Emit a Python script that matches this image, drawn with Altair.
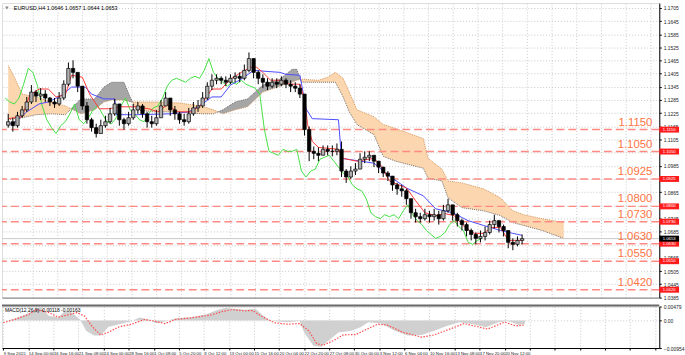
import altair as alt
import pandas as pd

# ---------------- data ----------------
# EURUSD H4, aggregated into 3-bar candles; bar index = H4 bar number from 9 Sep 2015 08:00
candle_bar = list(range(0, 334, 3))
first_open = 1.1170
close = [1.1186,1.1168,1.1213,1.1240,1.1276,1.1321,1.1303,1.1312,1.1294,1.1276,
         1.1267,1.1294,1.1357,1.1429,1.1411,1.1348,1.1258,1.1195,1.1159,1.1132,
         1.1168,1.1186,1.1222,1.1267,1.1195,1.1177,1.1204,1.1240,1.1258,1.1222,
         1.1186,1.1177,1.1204,1.1258,1.1294,1.1240,1.1222,1.1195,1.1186,1.1222,
         1.1249,1.1258,1.1294,1.1348,1.1375,1.1384,1.1375,1.1366,1.1384,1.1393,
         1.1384,1.1420,1.1474,1.1411,1.1384,1.1366,1.1348,1.1366,1.1357,1.1375,
         1.1357,1.1348,1.1339,1.1312,1.1150,1.1051,1.1042,1.1033,1.1060,1.1051,
         1.1051,1.1060,1.0961,1.0934,1.0961,1.0970,1.1015,1.1024,1.1033,1.1006,
         1.0979,1.0952,1.0938,1.0898,1.0880,1.0871,1.0835,1.0771,1.0753,1.0744,
         1.0762,1.0753,1.0762,1.0744,1.0780,1.0807,1.0762,1.0735,1.0717,1.0690,
         1.0672,1.0654,1.0663,1.0681,1.0717,1.0735,1.0708,1.0690,1.0636,1.0627,
         1.0645,1.0653]
high = [1.1222,1.1204,1.1231,1.1258,1.1299,1.1353,1.1330,1.1339,1.1330,1.1299,
        1.1294,1.1321,1.1375,1.1456,1.1466,1.1393,1.1348,1.1276,1.1204,1.1177,
        1.1195,1.1213,1.1249,1.1290,1.1267,1.1204,1.1231,1.1267,1.1276,1.1267,
        1.1231,1.1213,1.1240,1.1285,1.1321,1.1294,1.1258,1.1231,1.1222,1.1249,
        1.1276,1.1285,1.1321,1.1366,1.1402,1.1402,1.1393,1.1393,1.1402,1.1411,
        1.1411,1.1447,1.1502,1.1474,1.1420,1.1402,1.1384,1.1384,1.1384,1.1393,
        1.1384,1.1375,1.1366,1.1357,1.1312,1.1164,1.1073,1.1069,1.1078,1.1078,
        1.1078,1.1087,1.1096,1.0970,1.0983,1.0997,1.1042,1.1051,1.1051,1.1033,
        1.1006,1.0979,1.0961,1.0938,1.0907,1.0898,1.0880,1.0835,1.0789,1.0771,
        1.0789,1.0780,1.0789,1.0780,1.0807,1.0835,1.0807,1.0771,1.0744,1.0726,
        1.0699,1.0681,1.0690,1.0708,1.0735,1.0762,1.0735,1.0717,1.0690,1.0654,
        1.0663,1.0672]
low = [1.1159,1.1141,1.1159,1.1204,1.1231,1.1267,1.1276,1.1285,1.1276,1.1258,
       1.1249,1.1258,1.1285,1.1348,1.1384,1.1321,1.1240,1.1177,1.1141,1.1114,
       1.1141,1.1159,1.1177,1.1213,1.1168,1.1150,1.1168,1.1195,1.1222,1.1204,
       1.1159,1.1159,1.1168,1.1204,1.1258,1.1213,1.1195,1.1177,1.1168,1.1177,
       1.1213,1.1231,1.1249,1.1285,1.1330,1.1357,1.1357,1.1348,1.1357,1.1366,
       1.1366,1.1375,1.1411,1.1384,1.1357,1.1339,1.1330,1.1339,1.1339,1.1348,
       1.1339,1.1321,1.1321,1.1294,1.1123,1.1006,1.1015,1.1006,1.1033,1.1033,
       1.1028,1.1033,1.0934,1.0907,1.0925,1.0943,1.0970,1.0997,1.1006,1.0979,
       1.0952,1.0934,1.0916,1.0871,1.0853,1.0844,1.0807,1.0744,1.0726,1.0726,
       1.0735,1.0726,1.0735,1.0717,1.0735,1.0771,1.0735,1.0708,1.0690,1.0663,
       1.0645,1.0627,1.0636,1.0645,1.0672,1.0699,1.0681,1.0663,1.0609,1.0600,
       1.0618,1.0627]

# Ichimoku: Tenkan (red), Kijun (blue), cloud spans (shifted +26 bars)
tenkan_bar = [0,9,14,20,26,31,37,41,48,53,59,65,72,83,91,97,103,110,119,125,
              132,138,144,151,157,161,165,170,176,182,189,192,194,197,201,214,217,226,237,242,
              247,258,264,270,277,283,289,296,302,308,313,319,324,333]
tenkan = [1.1200,1.1209,1.1308,1.1335,1.1335,1.1299,1.1308,1.1398,1.1389,1.1308,
          1.1245,1.1245,1.1254,1.1254,1.1245,1.1231,1.1263,1.1231,1.1231,1.1263,
          1.1335,1.1335,1.1380,1.1411,1.1434,1.1434,1.1411,1.1375,1.1375,1.1357,
          1.1357,1.1290,1.1173,1.1096,1.1069,1.1060,1.1019,1.1006,1.1019,1.0983,
          1.0916,1.0884,1.0826,1.0771,1.0758,1.0767,1.0758,1.0704,1.0677,1.0677,
          1.0704,1.0704,1.0645,1.0645]
kijun_bar = [0,5,12,20,26,35,41,50,54,62,69,70,83,105,117,125,132,138,144,151,
             159,176,180,189,193,197,214,216,237,247,258,269,277,288,298,308,319,327,333]
kijun = [1.1173,1.1186,1.1231,1.1267,1.1276,1.1308,1.1344,1.1344,1.1312,1.1290,
         1.1290,1.1218,1.1218,1.1222,1.1231,1.1263,1.1299,1.1299,1.1353,1.1380,
         1.1420,1.1411,1.1402,1.1398,1.1245,1.1200,1.1195,1.1019,1.0997,1.0938,
         1.0884,1.0848,1.0789,1.0771,1.0735,1.0713,1.0690,1.0677,1.0668]
cloud_bar = [0,4,9,18,28,37,47,56,62,67,75,79,83,94,110,125,133,139,147,155,
             165,176,184,187,190,201,207,212,217,221,226,237,243,251,269,272,281,285,294,308,
             319,327,334,346,360]
span_a = [1.1443,1.1389,1.1312,1.1299,1.1276,1.1258,1.1222,1.1240,1.1276,1.1285,
          1.1285,1.1276,1.1276,1.1276,1.1272,1.1258,1.1240,1.1222,1.1240,1.1254,
          1.1321,1.1348,1.1366,1.1375,1.1380,1.1375,1.1389,1.1411,1.1384,1.1321,
          1.1240,1.1209,1.1173,1.1155,1.1109,1.1019,1.0970,1.0916,1.0907,1.0880,
          1.0839,1.0780,1.0762,1.0744,1.0726]
span_b = [1.1195,1.1200,1.1204,1.1218,1.1222,1.1218,1.1290,1.1290,1.1344,1.1366,
          1.1366,1.1299,1.1240,1.1231,1.1231,1.1222,1.1222,1.1240,1.1276,1.1290,
          1.1353,1.1380,1.1425,1.1425,1.1366,1.1366,1.1366,1.1366,1.1299,1.1231,
          1.1173,1.1127,1.1028,1.1006,1.0974,1.0929,1.0916,1.0839,1.0794,1.0780,
          1.0758,1.0726,1.0713,1.0690,1.0654]
chikou_shift = 26

levels = [1.1150, 1.1050, 1.0925, 1.0800, 1.0730, 1.0630, 1.0550, 1.0420]
last_price = 1.0653
y_ticks = [1.1705,1.1645,1.1585,1.1525,1.1465,1.1405,1.1345,1.1285,1.1225,1.1165,
           1.1105,1.1045,1.0985,1.0925,1.0865,1.0805,1.0745,1.0685,1.0625,1.0565,
           1.0505,1.0445,1.0385]
x_labels = ["9 Sep 2015","14 Sep 00:00","16 Sep 16:00","21 Sep 08:00","24 Sep 00:00",
            "28 Sep 16:00","1 Oct 08:00","5 Oct 20:00","8 Oct 12:00","13 Oct 00:00",
            "15 Oct 16:00","20 Oct 04:00","22 Oct 20:00","27 Oct 08:00","30 Oct 00:00",
            "3 Nov 12:00","6 Nov 04:00","10 Nov 16:00","13 Nov 08:00","17 Nov 20:00",
            "20 Nov 12:00"]
bars_per_label = 16

macd_bar = [0,7,16,21,24,29,35,39,43,49,53,58,62,67,74,82,87,93,98,104,
            110,120,129,137,142,154,161,165,170,181,189,192,198,203,209,214,222,228,233,241,
            250,258,267,275,283,291,300,308,316,322,329,333]
macd_val = [-0.0002,0.0005,0.0025,0.0040,0.0045,0.0016,0.0010,0.0031,0.0030,0.0003,
            -0.0037,-0.0052,-0.0052,-0.0023,-0.0013,-0.0002,0.0010,0.0003,-0.0011,-0.0002,
            0.0007,0.0011,0.0020,0.0037,0.0043,0.0037,0.0040,0.0020,0.0000,-0.0006,
            -0.0002,-0.0042,-0.0088,-0.0091,-0.0063,-0.0042,-0.0036,-0.0024,-0.0006,-0.0011,
            -0.0036,-0.0052,-0.0050,-0.0036,-0.0019,-0.0006,-0.0013,-0.0024,-0.0006,-0.0002,
            -0.0016,-0.0012]
signal_bar = [0,7,16,21,29,35,42,47,52,57,62,67,74,82,90,96,103,110,120,132,
              140,146,154,159,165,173,181,189,195,200,204,211,217,225,231,239,245,255,267,275,
              286,294,303,309,320,327,333]
signal_val = [-0.0008,0.0003,0.0020,0.0037,0.0027,0.0011,0.0020,0.0027,0.0014,-0.0023,
              -0.0050,-0.0041,-0.0022,-0.0013,0.0003,-0.0002,-0.0011,0.0003,0.0009,0.0018,
              0.0031,0.0037,0.0033,0.0034,0.0014,-0.0008,-0.0013,-0.0011,-0.0036,-0.0080,
              -0.0086,-0.0069,-0.0050,-0.0049,-0.0033,-0.0013,-0.0016,-0.0041,-0.0058,-0.0050,
              -0.0028,-0.0011,-0.0022,-0.0030,-0.0006,-0.0019,-0.0016]
macd_ticks = [0.00479, 0.0, -0.00954]

header = "EURUSD,H4  1.0646 1.0657 1.0644 1.0653"
macd_header = "MACD(12,26,9) -0.00118 -0.00163"

# ---------------- tables ----------------
opens = [first_open] + close[:-1]
cdf = pd.DataFrame({"bar": candle_bar, "open": opens, "close": close, "high": high, "low": low})
cdf["hi"] = cdf[["high", "open", "close"]].max(axis=1)
cdf["lo"] = cdf[["low", "open", "close"]].min(axis=1)

chik = pd.DataFrame({"bar": [b - chikou_shift for b in candle_bar], "price": close})
chik = chik[chik["bar"] >= -4]

tdf = pd.DataFrame({"bar": tenkan_bar, "price": tenkan})
kdf = pd.DataFrame({"bar": kijun_bar, "price": kijun})
sdf = pd.DataFrame({"bar": cloud_bar, "a": span_a, "b": span_b})

rows = []
seg = 0
prev = None
for b, a, bb in zip(cloud_bar, span_a, span_b):
    sign = a >= bb
    if prev is not None and sign != prev[3]:
        pb, pa, pbb, ps = prev
        d0, d1 = pa - pbb, a - bb
        t = d0 / (d0 - d1)
        xb = pb + t * (b - pb)
        xv = pa + t * (a - pa)
        rows.append(dict(bar=xb, top=xv, bot=xv, seg=seg, kind="bull" if ps else "bear"))
        seg += 1
        rows.append(dict(bar=xb, top=xv, bot=xv, seg=seg, kind="bull" if sign else "bear"))
    rows.append(dict(bar=b, top=max(a, bb), bot=min(a, bb), seg=seg, kind="bull" if sign else "bear"))
    prev = (b, a, bb, sign)
cloud = pd.DataFrame(rows)

ldf = pd.DataFrame({"level": levels})
pdf = pd.DataFrame({"level": [last_price]})
mdf = pd.DataFrame({"bar": macd_bar, "val": macd_val, "zero": [0.0] * len(macd_bar)})
gdf = pd.DataFrame({"bar": signal_bar, "val": signal_val})

# ---------------- scales / axes ----------------
FONT = "Liberation Sans"
NARROW = "Liberation Sans Narrow, Liberation Sans"
xs = alt.Scale(domain=[-0.85, 418.7], nice=False, zero=False)
ys = alt.Scale(domain=[1.0384, 1.1727], nice=False, zero=False)
grid_bars = list(range(bars_per_label, 417, bars_per_label))
main_x_axis = alt.Axis(values=grid_bars, labels=False, ticks=False, domain=True,
                       domainColor="#808080", grid=True, gridColor="#c8c8c8",
                       gridDash=[1, 2], title=None)
main_y_axis = alt.Axis(orient="right", values=y_ticks, labelFontSize=5,
                       labelFont=FONT, labelColor="#222222", tickSize=2, labelPadding=2,
                       domainColor="black", tickColor="black", grid=True,
                       gridColor="#c8c8c8", gridDash=[1, 2], title=None,
                       labelOverlap=False, labelFlush=False, labelBound=False,
                       labelExpr="abs(datum.value - 1.0925) < 0.0012 || abs(datum.value - 1.1050) < 0.0012"
                                 " || abs(datum.value - 1.0800) < 0.0012 || abs(datum.value - 1.0630) < 0.0012"
                                 " ? '' : format(datum.value, '.4f')")
X = lambda: alt.X("bar:Q", scale=xs, axis=main_x_axis)
Y = lambda f: alt.Y(f, scale=ys, axis=main_y_axis)

W, H = 665, 298
box_shape = "M-1,-0.3L1,-0.3L1,0.3L-1,0.3Z"

cloud_area = alt.Chart(cloud).mark_area(opacity=1, clip=True).encode(
    x=X(), y=Y("top:Q"), y2="bot:Q", detail="seg:N",
    color=alt.Color("kind:N", scale=alt.Scale(domain=["bull", "bear"],
                                               range=["#fbd6ae", "#a6a6a6"]), legend=None))
span_a_line = alt.Chart(sdf).mark_line(color="#c88040", strokeWidth=0.8, strokeDash=[1, 1]).encode(
    x=X(), y=Y("a:Q"))
span_b_line = alt.Chart(sdf).mark_line(color="#505050", strokeWidth=0.8, strokeDash=[1, 1]).encode(
    x=X(), y=Y("b:Q"))
level_rules = alt.Chart(ldf).mark_rule(color="#ff8a84", strokeWidth=1.5, strokeDash=[8, 4]).encode(
    y=Y("level:Q"))
price_rule = alt.Chart(pdf).mark_rule(color="#c8c8c8", strokeWidth=1).encode(y=Y("level:Q"))
chikou_line = alt.Chart(chik).mark_line(color="#44e044", strokeWidth=1, clip=True).encode(
    x=X(), y=Y("price:Q"))
kijun_line = alt.Chart(kdf).mark_line(color="#4a4aff", strokeWidth=1).encode(x=X(), y=Y("price:Q"))
tenkan_line = alt.Chart(tdf).mark_line(color="#ff3a3a", strokeWidth=1).encode(x=X(), y=Y("price:Q"))
wicks = alt.Chart(cdf).mark_rule(color="black", strokeWidth=1).encode(
    x=X(), y=Y("lo:Q"), y2="hi:Q")
bodies = alt.Chart(cdf).mark_bar(size=3.4, stroke="black", strokeWidth=0.7).encode(
    x=X(), y=Y("open:Q"), y2="close:Q",
    fill=alt.condition("datum.close >= datum.open", alt.value("#b0b0b0"), alt.value("black")))
level_text = alt.Chart(ldf).mark_text(align="right", baseline="bottom", dy=-2, fontSize=11.5,
                                      font=FONT, color="#ff7443").encode(
    x=alt.value(658), y=Y("level:Q"), text=alt.Text("level:Q", format=".4f"))
level_box = alt.Chart(ldf).mark_point(shape=box_shape, size=400, filled=True, opacity=1,
                                      color="#ff1c1c").encode(x=alt.value(675), y=Y("level:Q"))
level_box_text = alt.Chart(ldf).mark_text(fontSize=4.3, font=FONT, color="white").encode(
    x=alt.value(675), y=Y("level:Q"), text=alt.Text("level:Q", format=".4f"))
price_box = alt.Chart(pdf).mark_point(shape=box_shape, size=400, filled=True, opacity=1,
                                      color="black").encode(x=alt.value(675), y=Y("level:Q"))
price_box_text = alt.Chart(pdf).mark_text(fontSize=4.3, font=FONT, color="white").encode(
    x=alt.value(675), y=Y("level:Q"), text=alt.Text("level:Q", format=".4f"))
header_text = alt.Chart(pdf).mark_text(text=header, align="left", baseline="middle", fontSize=5.5,
                                       font=FONT, color="black").encode(
    x=alt.value(12), y=alt.value(5))
header_icon = alt.Chart(pdf).mark_point(shape="triangle-down", size=14, filled=True,
                                        color="#555555").encode(x=alt.value(5), y=alt.value(5))

main = alt.layer(cloud_area, span_a_line, span_b_line, level_rules, price_rule, chikou_line,
                 kijun_line, tenkan_line, wicks, bodies, level_text, level_box, level_box_text,
                 price_box, price_box_text, header_text, header_icon).properties(width=W, height=H)

# ---------------- MACD panel ----------------
xs2 = alt.Scale(domain=[-0.85, 418.7], nice=False, zero=False)
ms = alt.Scale(domain=[-0.00954, 0.00479], nice=False, zero=False)
label_arr = "[" + ",".join("'" + s + "'" for s in x_labels) + "]"
macd_x_axis = alt.Axis(values=[0] + grid_bars, title=None, grid=True, gridColor="#c8c8c8",
                       gridDash=[1, 2], labelFontSize=4.3, labelFont=NARROW, labelColor="#222222",
                       labelAlign="left", labelBaseline="top", labelPadding=1.5, tickSize=2,
                       tickColor="black", domainColor="black", labelOverlap=False,
                       labelFlush=False, labelBound=False,
                       labelExpr=f"datum.value <= {bars_per_label * (len(x_labels) - 1)} ? "
                                 f"{label_arr}[round(datum.value / {bars_per_label})] : ''")
macd_y_axis = alt.Axis(orient="right", values=macd_ticks, title=None, grid=True,
                       gridColor="#c8c8c8", gridDash=[1, 2], labelFontSize=5, labelFont=FONT,
                       labelColor="#222222", tickSize=2, labelPadding=2, domainColor="black",
                       tickColor="black", labelOverlap=False, labelFlush=False, labelBound=False,
                       labelExpr="datum.value == 0 ? '0.00' : format(datum.value, '.5f')")
MX = lambda: alt.X("bar:Q", scale=xs2, axis=macd_x_axis)
MY = lambda f: alt.Y(f, scale=ms, axis=macd_y_axis)

hist = alt.Chart(mdf).mark_area(color="#d0d0d0").encode(x=MX(), y=MY("val:Q"), y2="zero:Q")
signal = alt.Chart(gdf).mark_line(color="#ff4a4a", strokeWidth=1.2, strokeDash=[1.5, 1.5]).encode(
    x=MX(), y=MY("val:Q"))
macd_text = alt.Chart(pdf).mark_text(text=macd_header, align="left", baseline="top", fontSize=5,
                                     font=FONT, color="black").encode(
    x=alt.value(3), y=alt.value(2))
separator = alt.Chart(pdf).mark_rule(color="#6a6a6a", strokeWidth=2).encode(y=alt.value(-1))

macd = alt.layer(hist, signal, macd_text, separator).properties(width=W, height=42)

chart = alt.vconcat(main, macd, spacing=2).properties(padding=0).configure_view(
    strokeWidth=0).configure(background="white")

chart.save("out.html", embed_options={"renderer": "svg", "actions": False})
